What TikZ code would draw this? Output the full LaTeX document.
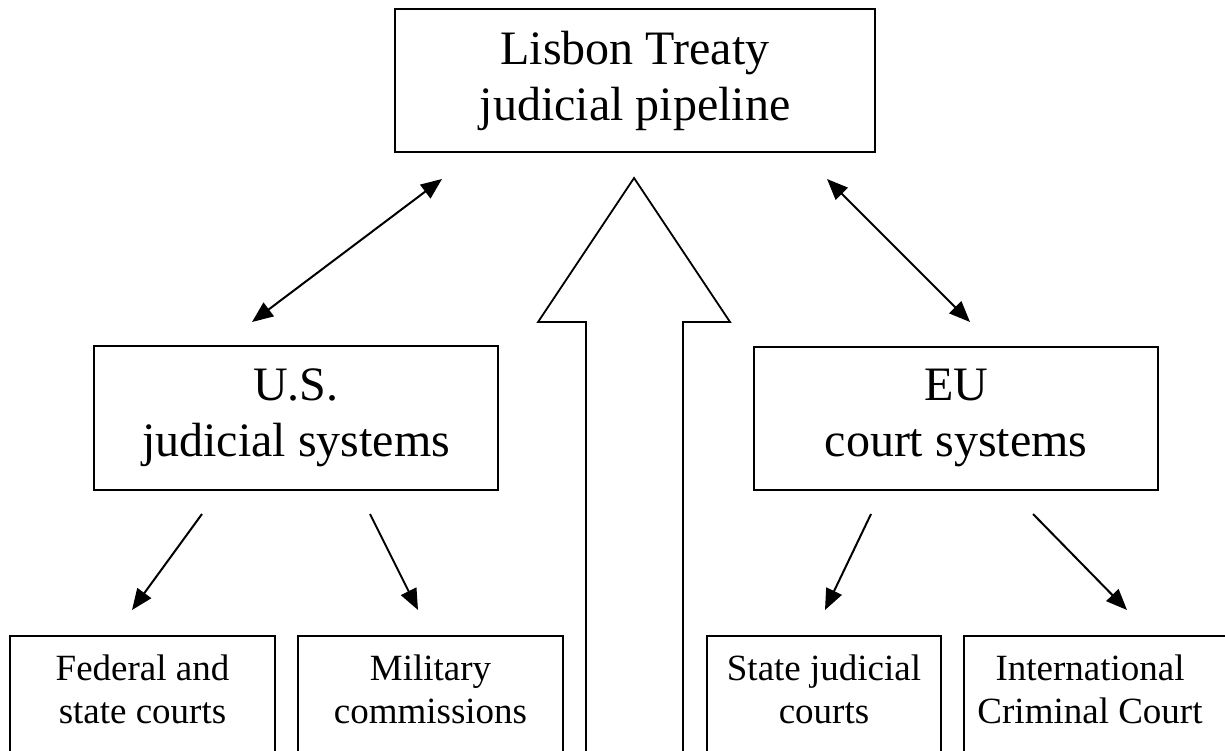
\documentclass[tikz,border=0pt]{standalone}
\usepackage{fontspec}
\setmainfont{Liberation Serif}
\usetikzlibrary{arrows.meta,positioning}
\begin{document}
\begin{tikzpicture}[x=1pt,y=-1pt,
    bigbox/.style={draw,line width=2pt,align=center,inner sep=0pt,
      font=\fontsize{48}{56}\selectfont},
    lowbox/.style={draw,line width=2pt,inner sep=0pt,anchor=north,minimum height=150pt},
    lowtext/.style={align=center,inner sep=0pt,anchor=base,
      font=\fontsize{37}{43}\selectfont},
    link/.style={line width=2pt,-{Triangle[length=21pt,width=17pt]}},
    twolink/.style={line width=2pt,{Triangle[length=21pt,width=17pt]}-{Triangle[length=21pt,width=17pt]}}]
  \useasboundingbox (0,0) rectangle (1225,751);
  \clip (0,0) rectangle (1225,751);
  % main boxes
  \node[bigbox,minimum width=480pt,minimum height=143pt] (lisbon) at (635,81) {Lisbon Treaty\\judicial pipeline};
  \node[bigbox,minimum width=404pt,minimum height=144pt] (us) at (296,418) {U.S.\\judicial systems};
  \node[bigbox,minimum width=404pt,minimum height=143pt] (eu) at (956,418) {EU\\court systems};
  % lower boxes
  \node[lowbox,minimum width=265pt] (fed) at (142.5,635) {};
  \node[lowbox,minimum width=265pt] (mil) at (430.5,635) {};
  \node[lowbox,minimum width=234pt] (state) at (824,635) {};
  \node[lowbox,minimum width=276pt] (icc) at (1102,635) {};
  \node[lowtext] (fedtxt) at (142.5,723) {Federal and\\state courts};
  \node[lowtext] (miltxt) at (430.5,723) {Military\\commissions};
  \node[lowtext] (statetxt) at (824,723) {State judicial\\courts};
  \node[lowtext] (icctxt) at (1090,723) {International\\Criminal Court};
  % arrow ends
  \coordinate (usA) at (252,322);
  \coordinate (usB) at (442,179);
  \coordinate (euA) at (827,179);
  \coordinate (euB) at (970,322);
  \coordinate (usL) at (202,514);
  \coordinate (fedE) at (132,610);
  \coordinate (usR) at (370,514);
  \coordinate (milE) at (418,610);
  \coordinate (euL) at (871,514);
  \coordinate (stateE) at (825,610);
  \coordinate (euR) at (1033,514);
  \coordinate (iccE) at (1127,610);
  \draw[twolink] (usA) -- (usB);
  \draw[twolink] (euA) -- (euB);
  \draw[link] (usL) -- (fedE);
  \draw[link] (usR) -- (milE);
  \draw[link] (euL) -- (stateE);
  \draw[link] (euR) -- (iccE);
  % big arrow up
  \draw[line width=1.8pt,line join=miter] (586,770) -- (586,322) -- (538,322) -- (634,178)
    -- (730,322) -- (683,322) -- (683,770);
\end{tikzpicture}
\end{document}
